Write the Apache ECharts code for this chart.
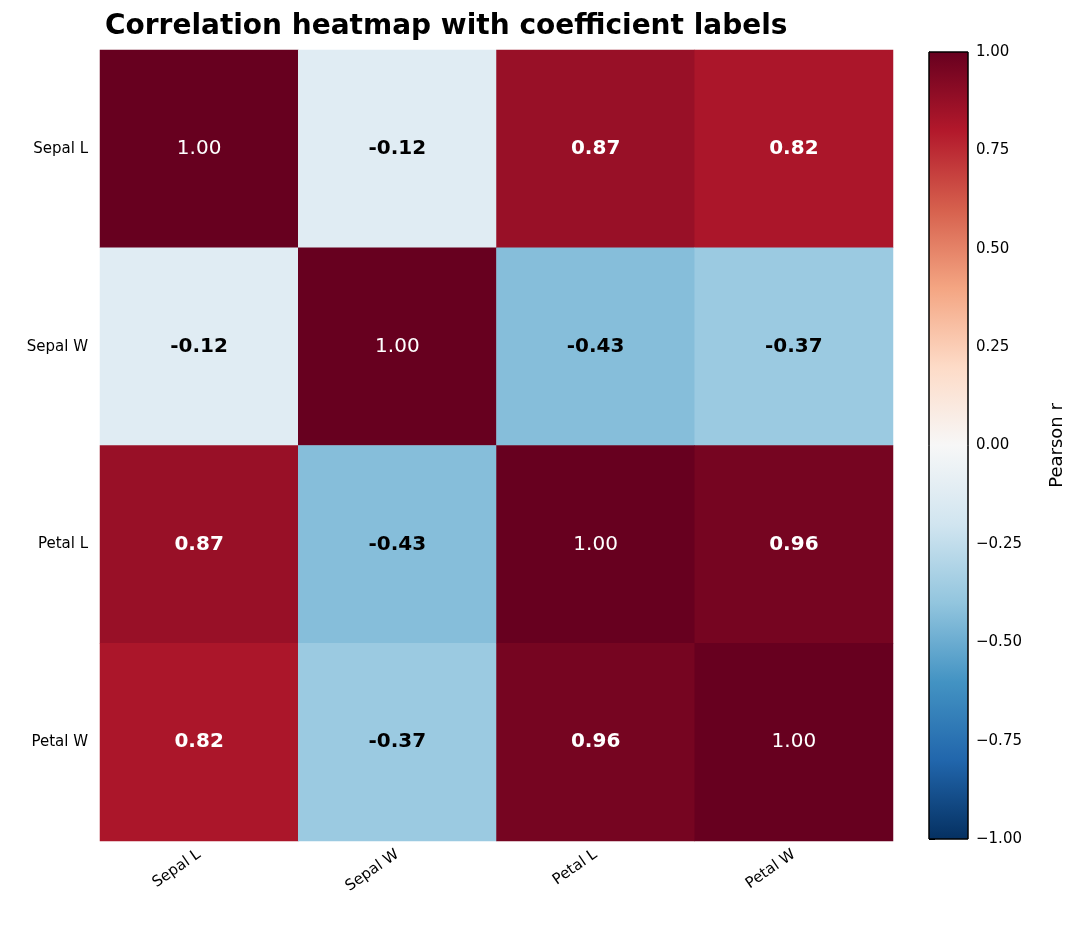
<!DOCTYPE html>
<html><head><meta charset="utf-8">
<script src="https://cdn.jsdelivr.net/npm/echarts@6/dist/echarts.min.js"></script>
<style>html,body{margin:0;padding:0;background:#fff}#c{width:1080px;height:926px}</style>
</head><body><div id="c"></div>
<script>
var features = ['Sepal L', 'Sepal W', 'Petal L', 'Petal W'];
var corr = [
  [1.00, -0.12, 0.87, 0.82],
  [-0.12, 1.00, -0.43, -0.37],
  [0.87, -0.43, 1.00, 0.96],
  [0.82, -0.37, 0.96, 1.00]
];
var barTicks = [-1, -0.75, -0.5, -0.25, 0, 0.25, 0.5, 0.75, 1];
var rdbu = ['#053061','#2166ac','#4393c3','#92c5de','#d1e5f0','#f7f7f7','#fddbc7','#f4a582','#d6604d','#b2182b','#67001f'];

var cells = [];
corr.forEach(function (row, i) {
  row.forEach(function (v, j) { cells.push([j, i, v]); });
});

var font = 'DejaVu Sans';
var chart = echarts.init(document.getElementById('c'));
chart.setOption({
  animation: false,
  textStyle: {fontFamily: font},
  title: {text: 'Correlation heatmap with coefficient labels', left: 100, top: 8,
    textStyle: {fontSize: 28, fontWeight: 'bold', color: '#000', fontFamily: font}},
  grid: [
    {left: 100, top: 50, width: 793, height: 791},
    {left: 929, top: 52, width: 39, height: 787}
  ],
  xAxis: [
    {type: 'category', data: features, gridIndex: 0, axisLine: {show: false},
      axisTick: {length: 6, alignWithLabel: true, lineStyle: {color: '#000'}},
      axisLabel: {rotate: 35, fontSize: 15, color: '#000', margin: 12}},
    {type: 'value', gridIndex: 1, min: 0, max: 1, show: false}
  ],
  yAxis: [
    {type: 'category', data: features, inverse: true, gridIndex: 0, axisLine: {show: false},
      axisTick: {length: 6, alignWithLabel: true, lineStyle: {color: '#000'}},
      axisLabel: {fontSize: 15, color: '#000', margin: 12}},
    {type: 'value', gridIndex: 1, position: 'right', min: -1, max: 1, interval: 0.25,
      splitLine: {show: false},
      axisLine: {show: true, lineStyle: {color: '#000'}},
      axisTick: {show: true, length: 6, lineStyle: {color: '#000'}},
      axisLabel: {fontSize: 15, color: '#000', margin: 8,
        formatter: function (v) { return (v < 0 ? '\u2212' : '') + Math.abs(v).toFixed(2); }},
      name: 'Pearson r', nameLocation: 'middle', nameRotate: 90, nameGap: 80,
      nameTextStyle: {fontSize: 18, color: '#000'}}
  ],
  visualMap: {show: false, min: -1, max: 1, seriesIndex: 0, inRange: {color: rdbu}},
  series: [
    {type: 'heatmap', xAxisIndex: 0, yAxisIndex: 0, data: cells,
      label: {show: true, fontSize: 20, fontFamily: font,
        formatter: function (p) { return p.value[2].toFixed(2); },
        rich: {}},
      labelLayout: null,
      emphasis: {disabled: true}},
    {type: 'custom', xAxisIndex: 1, yAxisIndex: 1, data: [[0, -1, 1]],
      renderItem: function (params, api) {
        var p0 = api.coord([0, api.value(2)]);
        var p1 = api.coord([1, api.value(1)]);
        var stops = rdbu.map(function (c, k) { return {offset: k / (rdbu.length - 1), color: c}; });
        return {type: 'rect', shape: {x: p0[0], y: p0[1], width: p1[0] - p0[0], height: p1[1] - p0[1]},
          style: {fill: new echarts.graphic.LinearGradient(0, 1, 0, 0, stops), stroke: '#000', lineWidth: 1}};
      }}
  ]
});
// per-cell label styling: diagonal normal white, others bold with contrast colour
var opt = chart.getOption();
var styled = cells.map(function (c) {
  var diag = c[0] === c[1];
  return {value: c, label: {fontWeight: diag ? 'normal' : 'bold', color: (diag || c[2] > 0.5) ? '#fff' : '#000'}};
});
chart.setOption({series: [{data: styled}]});
</script></body></html>
